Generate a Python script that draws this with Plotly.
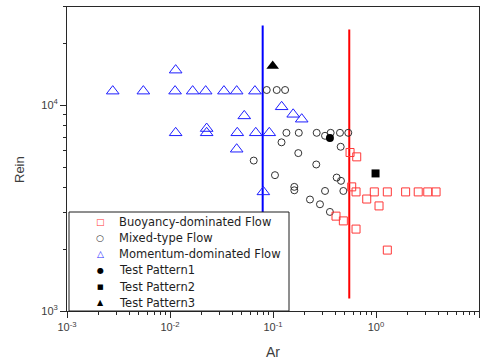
import plotly.graph_objects as go

# ---------------- data ----------------
buoy_ar = [0.560, 0.650, 0.581, 0.640, 0.813, 0.963, 1.07, 1.288, 1.94, 2.57, 3.18, 3.83,
           0.409, 0.482, 0.640, 1.288]
buoy_re = [5890, 5610, 4010, 3790, 3500, 3790, 3240, 3790, 3790, 3790, 3790, 3790,
           2890, 2740, 2500, 1977]

mixed_ar = [0.0869, 0.1087, 0.131, 0.135, 0.178, 0.2655, 0.320, 0.363, 0.447, 0.538,
            0.121, 0.176, 0.454, 0.0650, 0.263, 0.1045, 0.415, 0.457, 0.482, 0.320,
            0.161, 0.161, 0.2286, 0.2858, 0.357]
mixed_re = [11850, 11850, 11850, 7340, 7340, 7340, 7100, 7340, 7340, 7340,
            6600, 5850, 6280, 5380, 5150, 4570, 4450, 4290, 3830, 3830,
            4010, 3860, 3480, 3300, 3030]

mom_ar = [0.00278, 0.00551, 0.0112, 0.0166, 0.0222, 0.0334, 0.0444, 0.0668,
          0.01135, 0.1213, 0.157, 0.190, 0.0526,
          0.01135, 0.0227, 0.0227, 0.045, 0.068, 0.092,
          0.0444, 0.0806]
mom_re = [11700, 11700, 11700, 11700, 11700, 11700, 11700, 11700,
          14800, 9820, 9030, 8550, 8870,
          7340, 7700, 7340, 7340, 7340, 7340,
          6110, 3790]

tp1_ar, tp1_re = [0.357], [6930]
tp2_ar, tp2_re = [0.99], [4660]
tp3_ar, tp3_re = [0.0993], [15500]

blue_line_ar, blue_line_re = [0.0794, 0.0794], [1000, 24400]
red_line_ar, red_line_re = [0.55, 0.55], [1150, 23300]

x_tickvals = [1e-3, 1e-2, 1e-1, 1e0, 1e1]
x_ticktext = ["10<sup>-3</sup>", "10<sup>-2</sup>", "10<sup>-1</sup>", "10<sup>0</sup>", "10<sup>1</sup>"]
y_tickvals = [1e3, 1e4]
y_ticktext = ["10<sup>3</sup>", "10<sup>4</sup>"]

legend_names = ["Buoyancy-dominated Flow", "Mixed-type Flow", "Momentum-dominated Flow",
                "Test Pattern1", "Test Pattern2", "Test Pattern3"]
legend_glyphs = ["□", "○", "△", "●", "■", "▲"]

# ---------------- styles ----------------
RED = "rgb(255,55,55)"
BLUE = "rgb(30,30,255)"
GREY = "rgb(50,50,50)"
AXC = "rgb(40,40,40)"
legend_colors = [RED, GREY, BLUE, "black", "black", "black"]
legend_glyph_sizes = [9, 9, 9, 8, 7, 8]

fig = go.Figure()

fig.add_trace(go.Scatter(x=blue_line_ar, y=blue_line_re, mode="lines",
                         line=dict(color="rgb(0,0,255)", width=2), showlegend=False, hoverinfo="skip"))
fig.add_trace(go.Scatter(x=red_line_ar, y=red_line_re, mode="lines",
                         line=dict(color="rgb(255,0,0)", width=2), showlegend=False, hoverinfo="skip"))

fig.add_trace(go.Scatter(x=mixed_ar, y=mixed_re, mode="markers", name=legend_names[1], showlegend=False,
                         marker=dict(symbol="circle-open", size=7, color=GREY, line=dict(width=1, color=GREY))))
fig.add_trace(go.Scatter(x=mom_ar, y=mom_re, mode="markers", name=legend_names[2], showlegend=False,
                         marker=dict(symbol="triangle-up-open", size=11, color=BLUE, line=dict(width=1, color=BLUE))))
fig.add_trace(go.Scatter(x=buoy_ar, y=buoy_re, mode="markers", name=legend_names[0], showlegend=False,
                         marker=dict(symbol="square-open", size=8, color=RED, line=dict(width=1, color=RED))))
fig.add_trace(go.Scatter(x=tp1_ar, y=tp1_re, mode="markers", name=legend_names[3], showlegend=False,
                         marker=dict(symbol="circle", size=8, color="black")))
fig.add_trace(go.Scatter(x=tp2_ar, y=tp2_re, mode="markers", name=legend_names[4], showlegend=False,
                         marker=dict(symbol="square", size=8, color="black")))
fig.add_trace(go.Scatter(x=tp3_ar, y=tp3_re, mode="markers", name=legend_names[5], showlegend=False,
                         marker=dict(symbol="triangle-up", size=11, color="black")))

# ---------------- hand-built legend box (tight row spacing like the reference) ----------------
PLOT_L, PLOT_W, PLOT_B, PLOT_H = 67, 412, 311, 304
def px_x(px):
    return (px - PLOT_L) / PLOT_W
def px_y(py):
    return (PLOT_B - py) / PLOT_H

shapes = [dict(type="rect", xref="paper", yref="paper",
               x0=px_x(69), x1=px_x(289), y0=px_y(311), y1=px_y(212),
               line=dict(color="rgb(30,30,30)", width=1), fillcolor="white", layer="above")]

annotations = []
row0, row_step = 221.7, 16.2
for i, (name, glyph, col, gs) in enumerate(zip(legend_names, legend_glyphs, legend_colors, legend_glyph_sizes)):
    yc = px_y(row0 + i * row_step)
    annotations.append(dict(text=glyph, xref="paper", yref="paper", x=px_x(100), y=yc,
                            xanchor="center", yanchor="middle", showarrow=False,
                            font=dict(family="DejaVu Sans", size=gs, color=col)))
    annotations.append(dict(text=name, xref="paper", yref="paper", x=px_x(117), y=yc,
                            xanchor="left", yanchor="middle", showarrow=False,
                            font=dict(family="DejaVu Sans", size=11.5, color="rgb(30,30,30)")))

annotations += [
    dict(text="Ar", xref="paper", yref="paper", x=0.5, y=px_y(352), showarrow=False,
         xanchor="center", yanchor="middle",
         font=dict(family="Liberation Sans, Arial", size=14, color="rgb(60,60,60)")),
    dict(text="Rein", xref="paper", yref="paper", x=px_x(20), y=px_y(170), showarrow=False,
         textangle=-90, xanchor="center", yanchor="middle",
         font=dict(family="Liberation Sans, Arial", size=13, color="rgb(60,60,60)")),
]

tickfont = dict(family="Liberation Sans, Arial", size=11, color="rgb(60,60,60)")

fig.update_layout(
    width=486, height=360,
    margin=dict(l=67, r=7, t=7, b=49),
    paper_bgcolor="white", plot_bgcolor="white",
    showlegend=False,
    xaxis=dict(type="log", range=[-3, 1], showgrid=False, zeroline=False,
               showline=True, linecolor=AXC, linewidth=1, mirror=True,
               ticks="outside", ticklen=6, tickcolor=AXC,
               tickmode="array", tickvals=x_tickvals, ticktext=x_ticktext,
               tickfont=tickfont,
               minor=dict(ticks="outside", ticklen=3, tickcolor=AXC, dtick="D1", showgrid=False)),
    yaxis=dict(type="log", range=[3, 4.477], showgrid=False, zeroline=False,
               showline=True, linecolor=AXC, linewidth=1, mirror=True,
               ticks="outside", ticklen=6, tickcolor=AXC,
               tickmode="array", tickvals=y_tickvals, ticktext=y_ticktext,
               tickfont=tickfont,
               minor=dict(ticks="outside", ticklen=3, tickcolor=AXC, dtick="D1", showgrid=False)),
    xaxis2=dict(type="log", range=[-3, 1], overlaying="x", side="top", anchor="y",
                showgrid=False, zeroline=False, showline=False,
                ticks="inside", ticklen=6, tickcolor=AXC, showticklabels=False,
                tickmode="array", tickvals=x_tickvals,
                minor=dict(ticks="inside", ticklen=3, tickcolor=AXC, dtick="D1", showgrid=False)),
    yaxis2=dict(type="log", range=[3, 4.477], overlaying="y", side="right", anchor="x",
                showgrid=False, zeroline=False, showline=False,
                ticks="inside", ticklen=6, tickcolor=AXC, showticklabels=False,
                tickmode="array", tickvals=y_tickvals,
                minor=dict(ticks="inside", ticklen=3, tickcolor=AXC, dtick="D1", showgrid=False)),
    shapes=shapes,
    annotations=annotations,
)

fig.write_html("out.html")
